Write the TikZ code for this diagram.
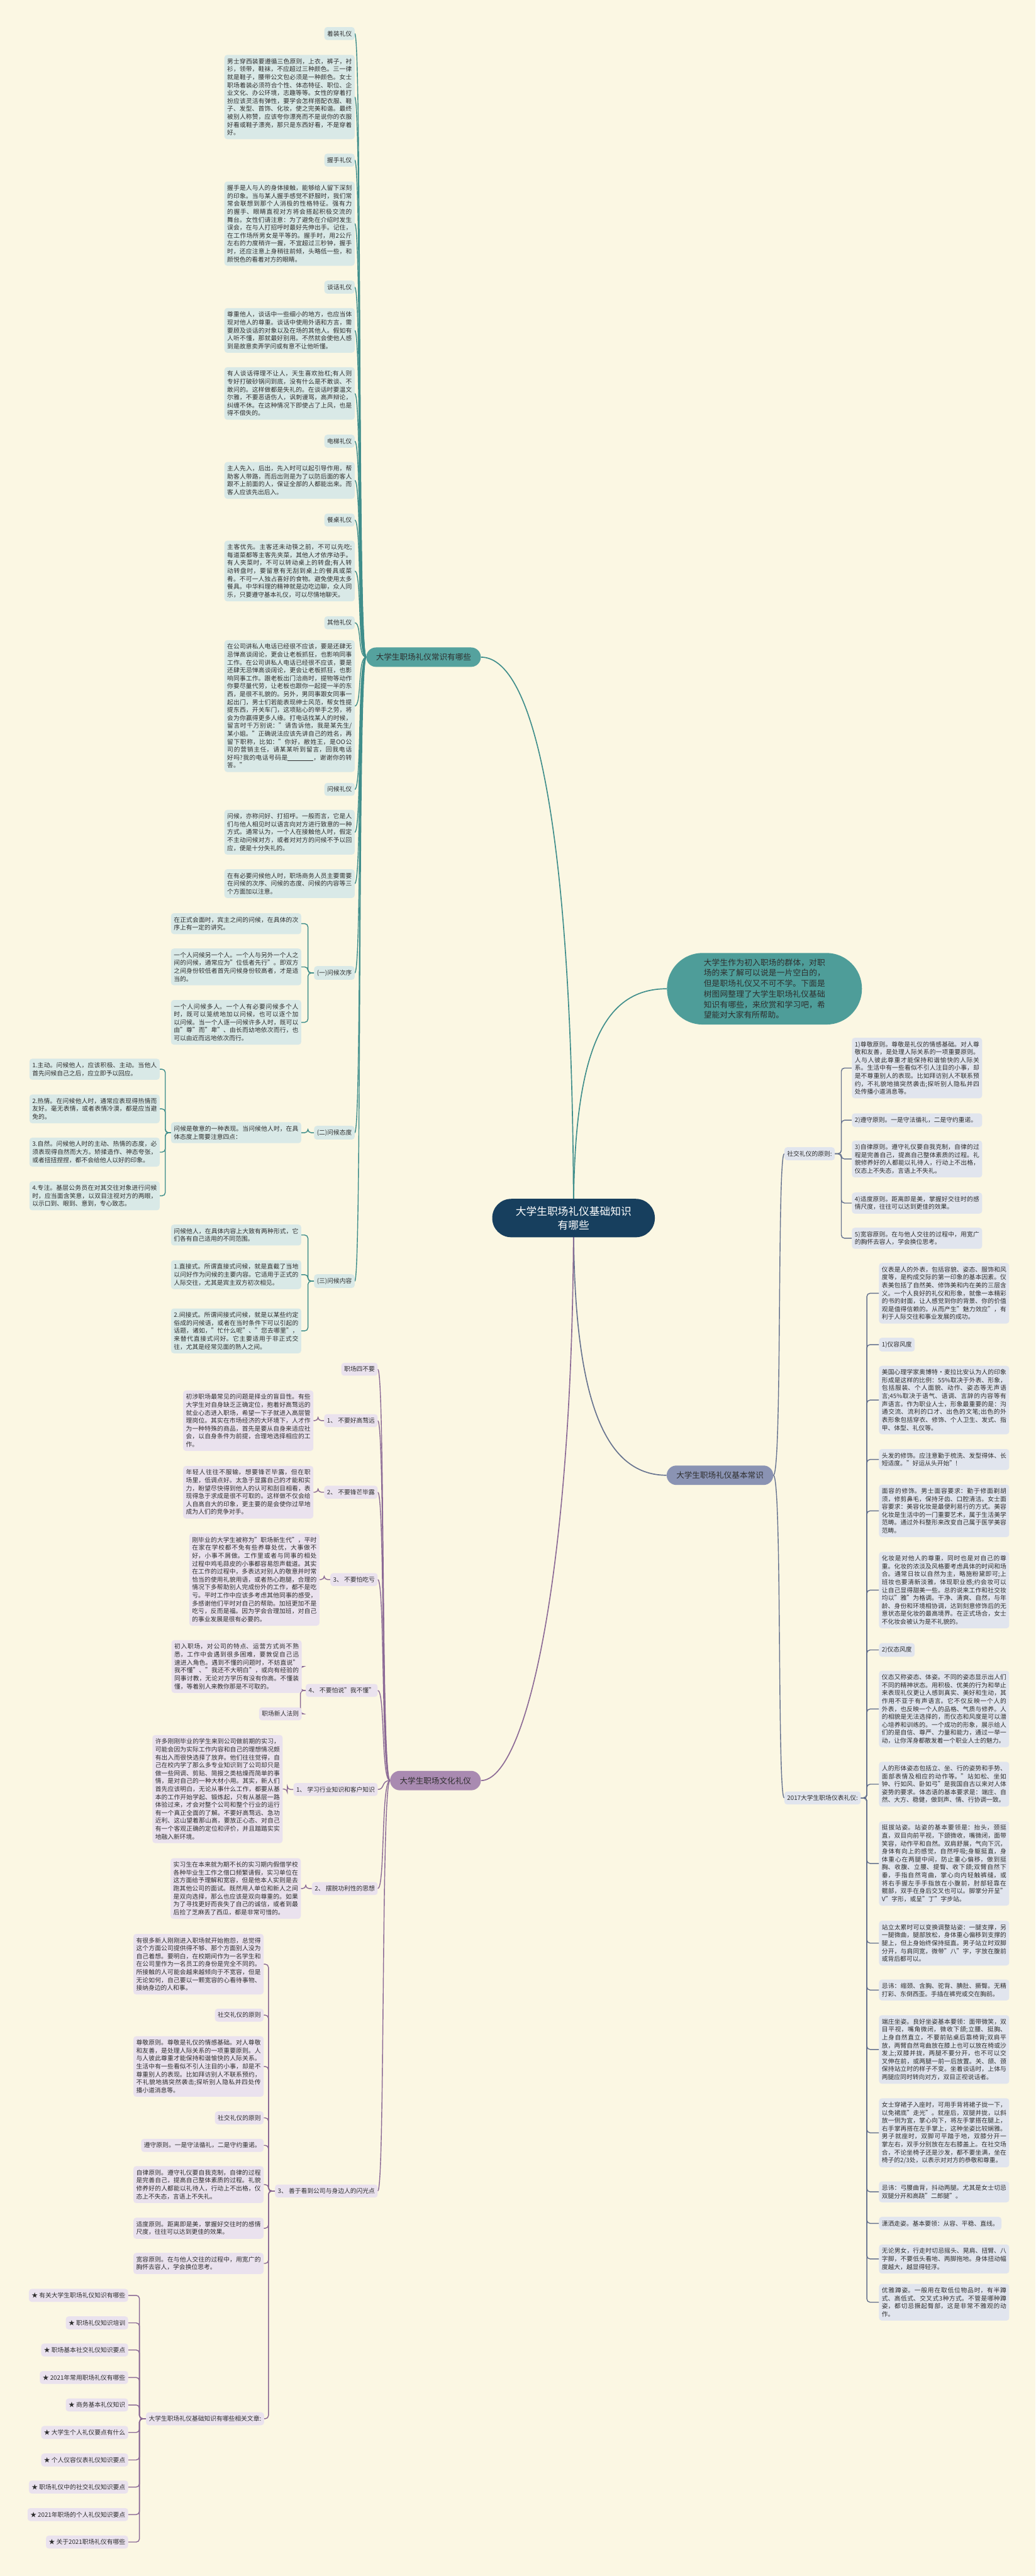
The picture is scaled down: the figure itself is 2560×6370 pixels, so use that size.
\documentclass[tikz,border=0pt]{standalone}
\usepackage{fontspec}
\setmainfont{Noto Sans CJK SC}
\XeTeXlinebreaklocale "zh"
\XeTeXlinebreakskip=0pt plus 1pt
\setlength{\parindent}{0pt}
\definecolor{bgc}{HTML}{FBF7E3}
\definecolor{txt}{HTML}{2E2E2E}
\definecolor{tline}{HTML}{3F8E8B}
\definecolor{tboxc}{HTML}{D9E9E7}
\definecolor{tnode}{HTML}{55A29E}
\definecolor{pline}{HTML}{8C6A96}
\definecolor{pboxc}{HTML}{EAE2EE}
\definecolor{pnode}{HTML}{A98AB1}
\definecolor{sline}{HTML}{67738F}
\definecolor{sboxc}{HTML}{E1E5EE}
\definecolor{snode}{HTML}{8A93B3}
\definecolor{cnode}{HTML}{173F5E}
\definecolor{rootc}{HTML}{4E9D99}
\newcommand\fsA{\fontsize{15.2}{19.6}\selectfont}
\newcommand\fsB{\fontsize{19.6}{24}\selectfont}
\newcommand\fsC{\fontsize{19.8}{26}\selectfont}
\newcommand\fsD{\fontsize{26}{34}\selectfont}
\newcommand\conL[3]{\draw[#1] (#2.west) .. controls +(-22,0) and +(18,0) .. (#3.east);}
\newcommand\conR[3]{\draw[#1] (#2.east) .. controls +(22,0) and +(-18,0) .. (#3.west);}
\newcommand\brL[4]{\draw[#1, rounded corners=8pt] (#2.west) -- ++(-#4,0) |- (#3.east);}
\newcommand\brR[4]{\draw[#1, rounded corners=8pt] (#2.east) -- ++(#4,0) |- (#3.west);}
\pgfdeclarelayer{back}
\pgfsetlayers{back,main}
\tikzset{
 bx/.style={font=\fsA, text=txt, inner xsep=7pt, inner ysep=9pt, rounded corners=7pt},
 tb/.style={bx, fill=tboxc},
 tw/.style={tb, text width=308pt, align=justify},
 pb/.style={bx, fill=pboxc},
 pw/.style={pb, text width=308pt, align=justify},
 sb/.style={bx, fill=sboxc},
 sw/.style={sb, text width=308pt, align=justify},
 lvl/.style={font=\fsB, text=txt, rounded corners=24pt, minimum height=48pt, inner xsep=24pt, inner ysep=4pt},
 tcon/.style={draw=tline, line width=2.2pt},
 pcon/.style={draw=pline, line width=2.2pt},
 scon/.style={draw=sline, line width=2.2pt},
}
\begin{document}
\begin{tikzpicture}[x=1pt, y=-1pt]
\useasboundingbox (0,0) rectangle (2560,6370);
% ---------- center and level 1 ----------
\node[fill=cnode, text=white, font=\fsD, rounded corners=47pt, minimum width=402pt, minimum height=95pt, align=center] (C) at (1418,3012) {大学生职场礼仪基础知识\\有哪些};
\node[fill=rootc, text=txt, font=\fsC, rounded corners=88pt, minimum width=482pt, minimum height=177pt, text width=300pt, align=justify] (R) at (1890,2445) {大学生作为初入职场的群体，对职场的来了解可以说是一片空白的，但是职场礼仪又不可不学。下面是树图网整理了大学生职场礼仪基础知识有哪些，来欣赏和学习吧，希望能对大家有所帮助。};
\node[lvl, fill=tnode, anchor=east] (B1) at (1189,1625) {大学生职场礼仪常识有哪些};
\node[lvl, fill=pnode, anchor=east] (B2) at (1189,4403) {大学生职场文化礼仪};
\node[lvl, fill=snode, anchor=west] (B3) at (1648,3648) {大学生职场礼仪基本常识};
% ---------- teal branch ----------
\node[tb, anchor=east] (zz) at (877,83) {着装礼仪};
\node[tw, anchor=east] (t1) at (877,240) {男士穿西装要遵循三色原则，上衣，裤子，衬衫，领带，鞋袜，不应超过三种颜色。三一律就是鞋子，腰带公文包必须是一种颜色。女士职场着装必须符合个性、体态特征、职位、企业文化、办公环境，志趣等等。女性的穿着打扮应该灵活有弹性，要学会怎样搭配衣服、鞋子、发型、首饰、化妆，使之完美和谐。最终被别人称赞，应该夸你漂亮而不是说你的衣服好看或鞋子漂亮，那只是东西好看，不是穿着好。};
\node[tb, anchor=east] (ws) at (877,396) {握手礼仪};
\node[tw, anchor=east] (t2) at (877,553) {握手是人与人的身体接触，能够给人留下深刻的印象。当与某人握手感觉不舒服时，我们常常会联想到那个人消极的性格特征。强有力的握手、眼睛直视对方将会搭起积极交流的舞台。女性们请注意：为了避免在介绍时发生误会，在与人打招呼时最好先伸出手。记住，在工作场所男女是平等的。握手时，用2公斤左右的力度稍许一握，不宜超过三秒钟，握手时，还应注意上身稍往前倾，头略低一些，和颜悦色的看着对方的眼睛。};
\node[tb, anchor=east] (th) at (877,710) {谈话礼仪};
\node[tw, anchor=east] (t3) at (877,817) {尊重他人，谈话中一些细小的地方，也应当体现对他人的尊重。谈话中使用外语和方言，需要顾及谈话的对象以及在场的其他人。假如有人听不懂，那就最好别用。不然就会使他人感到是故意卖弄学问或有意不让他听懂。};
\node[tw, anchor=east] (t4) at (877,973) {有人谈话得理不让人，天生喜欢抬杠;有人则专好打破砂锅问到底，没有什么是不敢谈、不敢问的。这样做都是失礼的。在谈话时要温文尔雅，不要恶语伤人，讽刺谩骂，高声辩论，纠缠不休。在这种情况下即使占了上风，也是得不偿失的。};
\node[tb, anchor=east] (dt) at (877,1091) {电梯礼仪};
\node[tw, anchor=east] (t5) at (877,1188) {主人先入，后出，先入时可以起引导作用，帮助客人带路，而后出则是为了以防后面的客人跟不上前面的人，保证全部的人都能出来。而客人应该先出后入。};
\node[tb, anchor=east] (cz) at (877,1286) {餐桌礼仪};
\node[tw, anchor=east] (t6) at (877,1412) {主客优先。主客还未动筷之前，不可以先吃;每道菜都等主客先夹菜，其他人才依序动手。有人夹菜时，不可以转动桌上的转盘;有人转动转盘时，要留意有无刮到桌上的餐具或菜肴。不可一人独占喜好的食物。避免使用太多餐具。中华料理的精神就是边吃边聊，众人同乐，只要遵守基本礼仪，可以尽情地聊天。};
\node[tb, anchor=east] (qt) at (877,1540) {其他礼仪};
\node[tw, anchor=east] (t7) at (877,1746) {在公司讲私人电话已经很不应该，要是还肆无忌惮高谈阔论，更会让老板抓狂，也影响同事工作。在公司讲私人电话已经很不应该，要是还肆无忌惮高谈阔论，更会让老板抓狂，也影响同事工作。跟老板出门洽商时，提物等动作你要尽量代劳，让老板也跟你一起提一半的东西，是很不礼貌的。另外，男同事跟女同事一起出门，男士们若能表现绅士风范，帮女性提提东西，开关车门，这项贴心的举手之劳，将会为你赢得更多人缘。打电话找某人的时候，留言时千万别说："请告诉他，我是某先生/某小姐。"正确说法应该先讲自己的姓名，再留下职称，比如："你好，敝姓王，是OO公司的营销主任，请某某听到留言，回我电话好吗?我的电话号码是\rule[-2pt]{64pt}{0.8pt}，谢谢你的转答。"};
\node[tb, anchor=east] (wh) at (877,1952) {问候礼仪};
\node[tw, anchor=east] (t8) at (877,2058) {问候，亦称问好、打招呼。一般而言，它是人们与他人相见时以语言向对方进行致意的一种方式。通常认为，一个人在接触他人时，假定不主动问候对方，或者对对方的问候不予以回应，便是十分失礼的。};
\node[tw, anchor=east] (t9) at (877,2185) {在有必要问候他人时，职场商务人员主要需要在问候的次序、问候的态度、问候的内容等三个方面加以注意。};
\node[tb, anchor=east] (c1) at (877,2406) {(一)问候次序};
\node[tb, anchor=east] (c2) at (877,2801) {(二)问候态度};
\node[tb, anchor=east] (c3) at (877,3168) {(三)问候内容};
\node[tw, anchor=east] (c1a) at (745,2284) {在正式会面时，宾主之间的问候，在具体的次序上有一定的讲究。};
\node[tw, anchor=east] (c1b) at (745,2391) {一个人问候另一个人。一个人与另外一个人之间的问候，通常应为"位低者先行"。即双方之间身份较低者首先问候身份较高者，才是适当的。};
\node[tw, anchor=east] (c1c) at (745,2528) {一个人问候多人。一个人有必要问候多个人时，既可以笼统地加以问候，也可以逐个加以问候。当一个人逐一问候许多人时，既可以由"尊"而"卑"、由长而幼地依次而行，也可以由近而远地依次而行。};
\node[tw, anchor=east] (c2a) at (745,2801) {问候是敬意的一种表现。当问候他人时，在具体态度上需要注意四点：};
\node[tw, anchor=east] (d1) at (395,2644) {1.主动。问候他人，应该积极、主动。当他人首先问候自己之后，应立即予以回应。};
\node[tw, anchor=east] (d2) at (395,2742) {2.热情。在问候他人时，通常应表现得热情而友好。毫无表情，或者表情冷漠，都是应当避免的。};
\node[tw, anchor=east] (d3) at (395,2849) {3.自然。问候他人时的主动、热情的态度，必须表现得自然而大方。矫揉造作、神态夸张，或者扭扭捏捏，都不会给他人以好的印象。};
\node[tw, anchor=east] (d4) at (395,2957) {4.专注。基层公务员在对其交往对象进行问候时，应当面含笑意，以双目注视对方的两眼，以示口到、眼到、意到，专心致志。};
\node[tw, anchor=east] (c3a) at (745,3054) {问候他人，在具体内容上大致有两种形式，它们各有自己适用的不同范围。};
\node[tw, anchor=east] (c3b) at (745,3152) {1.直接式。所谓直接式问候，就是直截了当地以问好作为问候的主要内容。它适用于正式的人际交往，尤其是宾主双方初次相见。};
\node[tw, anchor=east] (c3c) at (745,3291) {2.间接式。所谓间接式问候，就是以某些约定俗成的问候语，或者在当时条件下可以引起的话题，诸如，"忙什么呢"、"您去哪里"，来替代直接式问好。它主要适用于非正式交往，尤其是经常见面的熟人之间。};
% ---------- purple branch ----------
\node[pb, anchor=east] (p0) at (934,3386) {职场四不要};
\node[pb, anchor=east] (p1) at (934,3513) {1、 不要好高骛远};
\node[pw, anchor=east] (p1t) at (775,3513) {初涉职场最常见的问题是择业的盲目性。有些大学生对自身缺乏正确定位，抱着好高骛远的就业心态进入职场，希望一下子就进入高层管理岗位。其实在市场经济的大环境下，人才作为一种特殊的商品，首先是要从自身来适应社会，以自身条件为前提，合理地选择相应的工作。};
\node[pb, anchor=east] (p2) at (934,3690) {2、 不要锋芒毕露};
\node[pw, anchor=east] (p2t) at (775,3690) {年轻人往往不服输，想要锋芒毕露，但在职场里，低调点好。太急于显露自己的才能和实力，盼望尽快得到他人的认可和刮目相看，表现得急于求成是很不可取的。这样做不仅会给人自高自大的印象，更主要的是会使你过早地成为人们的竞争对手。};
\node[pb, anchor=east] (p3) at (934,3906) {3、 不要怕吃亏};
\node[pw, anchor=east] (p3t) at (790,3906) {刚毕业的大学生被称为"职场新生代"，平时在家在学校都不免有些养尊处优，大事做不好，小事不屑做。工作里或者与同事的相处过程中鸡毛蒜皮的小事都容易怨声载道。其实在工作的过程中，多表达对别人的敬意并时常恰当的使用礼貌用语，或者热心跑腿，合理的情况下多帮助别人完成份外的工作，都不是吃亏。平时工作中应该多考虑其他同事的感受，多感谢他们平时对自己的帮助。加班更加不是吃亏，反而是福。因为学会合理加班，对自己的事业发展是很有必要的。};
\node[pb, anchor=east] (p4) at (934,4180) {4、 不要怕说"我不懂"};
\node[pw, anchor=east] (p4t) at (746,4121) {初入职场，对公司的特点、运营方式尚不熟悉，工作中会遇到很多困难，要敦促自己迅速进入角色。遇到不懂的问题时，不妨直说"我不懂"、"我还不大明白"，或向有经验的同事讨教，无论对方学历有没有你高。不懂装懂，等着别人来教你那是不可取的。};
\node[pb, anchor=east] (p4n) at (746,4238) {职场新人法则};
\node[pb, anchor=east] (p5) at (934,4425) {1、 学习行业知识和客户知识};
\node[pw, anchor=east] (p5t) at (699,4424) {许多刚刚毕业的学生来到公司做前期的实习，可能会因为实际工作内容和自己的理想情况颇有出入而很快选择了放弃。他们往往觉得，自己在校内学了那么多专业知识到了公司却只是做一些网调、剪贴、简报之类枯燥而简单的事情，是对自己的一种大材小用。其实，新人们首先应该明白，无论从事什么工作，都要从基本的工作开始学起、锻炼起，只有从基层一路体验过来，才会对整个公司和整个行业的运行有一个真正全面的了解。不要好高骛远、急功近利、这山望着那山高，要放正心态、对自己有一个客观正确的定位和评价，并且踏踏实实地融入新环境。};
\node[pb, anchor=east] (p6) at (934,4670) {2、 摆脱功利性的思想};
\node[pw, anchor=east] (p6t) at (744,4670) {实习生在本来就为期不长的实习期内假借学校各种毕业生工作之借口频繁请假，实习单位在这方面给予理解和宽容，但是他本人实则是去跑其他公司的面试。既然用人单位和新人之间是双向选择，那么也应该是双向尊重的。如果为了寻找更好而丧失了自己的诚信，或者到最后捡了芝麻丢了西瓜，都是非常可惜的。};
\node[pb, anchor=east] (p7) at (934,5418) {3、 善于看到公司与身边人的闪光点};
\node[pw, anchor=east] (q1) at (652,4857) {有很多新人刚刚进入职场就开始抱怨，总觉得这个方面公司提供得不够、那个方面别人没为自己着想。要明白，在校期间作为一名学生和在公司里作为一名员工的身份是完全不同的。所接触的人可能会越来越倾向于不宽容，但是无论如何，自己要以一颗宽容的心看待事物、接纳身边的人和事。};
\node[pb, anchor=east] (q2) at (652,4983) {社交礼仪的原则};
\node[pw, anchor=east] (q3) at (652,5110) {尊敬原则。尊敬是礼仪的情感基础。对人尊敬和友善，是处理人际关系的一项重要原则。人与人彼此尊重才能保持和谐愉快的人际关系。生活中有一些看似不引人注目的小事，却是不尊重别人的表现。比如拜访别人不联系预约，不礼貌地搞突然袭击;探听别人隐私并四处传播小道消息等。};
\node[pb, anchor=east] (q4) at (652,5237) {社交礼仪的原则};
\node[pb, anchor=east] (q5) at (652,5305) {遵守原则。一是守法循礼，二是守约重诺。};
\node[pw, anchor=east] (q6) at (652,5402) {自律原则。遵守礼仪要自我克制，自律的过程是完善自己，提高自己整体素质的过程。礼貌修养好的人都能以礼待人，行动上不出格，仪态上不失态，言语上不失礼。};
\node[pw, anchor=east] (q7) at (652,5510) {适度原则。距离即是美，掌握好交往时的感情尺度，往往可以达到更佳的效果。};
\node[pw, anchor=east] (q8) at (652,5597) {宽容原则。在与他人交往的过程中，用宽广的胸怀去容人，学会换位思考。};
\node[pb, anchor=east] (q9) at (653,5981) {大学生职场礼仪基础知识有哪些相关文章:};
\node[pb, anchor=east] (s1) at (317,5676) {★ 有关大学生职场礼仪知识有哪些};
\node[pb, anchor=east] (s2) at (317,5744) {★ 职场礼仪知识培训};
\node[pb, anchor=east] (s3) at (317,5811) {★ 职场基本社交礼仪知识要点};
\node[pb, anchor=east] (s4) at (317,5879) {★ 2021年常用职场礼仪有哪些};
\node[pb, anchor=east] (s5) at (317,5947) {★ 商务基本礼仪知识};
\node[pb, anchor=east] (s6) at (317,6015) {★ 大学生个人礼仪要点有什么};
\node[pb, anchor=east] (s7) at (317,6083) {★ 个人仪容仪表礼仪知识要点};
\node[pb, anchor=east] (s8) at (317,6150) {★ 职场礼仪中的社交礼仪知识要点};
\node[pb, anchor=east] (s9) at (317,6218) {★ 2021年职场的个人礼仪知识要点};
\node[pb, anchor=east] (s10) at (317,6286) {★ 关于2021职场礼仪有哪些};
% ---------- slate branch ----------
\node[sb, anchor=west] (r1) at (1939,2853) {社交礼仪的原则:};
\node[sw, anchor=west] (r1a) at (2106,2641) {1)尊敬原则。尊敬是礼仪的情感基础。对人尊敬和友善，是处理人际关系的一项重要原则。人与人彼此尊重才能保持和谐愉快的人际关系。生活中有一些看似不引人注目的小事，却是不尊重别人的表现。比如拜访别人不联系预约，不礼貌地搞突然袭击;探听别人隐私并四处传播小道消息等。};
\node[sw, anchor=west] (r1b) at (2106,2770) {2)遵守原则。一是守法循礼，二是守约重诺。};
\node[sw, anchor=west] (r1c) at (2106,2866) {3)自律原则。遵守礼仪要自我克制，自律的过程是完善自己，提高自己整体素质的过程。礼貌修养好的人都能以礼待人，行动上不出格，仪态上不失态，言语上不失礼。};
\node[sw, anchor=west] (r1d) at (2106,2975) {4)适度原则。距离即是美，掌握好交往时的感情尺度，往往可以达到更佳的效果。};
\node[sw, anchor=west] (r1e) at (2106,3062) {5)宽容原则。在与他人交往的过程中，用宽广的胸怀去容人，学会换位思考。};
\node[sb, anchor=west] (r2) at (1939,4446) {2017大学生职场仪表礼仪:};
\node[sw, anchor=west] (u1) at (2173,3198) {仪表是人的外表，包括容貌、姿态、服饰和风度等，是构成交际的第一印象的基本因素。仪表美包括了自然美、修饰美和内在美的三层含义。一个人良好的礼仪和形象，就像一本精彩的书的封面，让人感觉到你的背景、你的价值观是值得信赖的。从而产生"魅力效应"，有利于人际交往和事业发展的成功。};
\node[sb, anchor=west] (u2) at (2173,3325) {1)仪容风度};
\node[sw, anchor=west] (u3) at (2173,3462) {美国心理学家奥博特·麦拉比安认为人的印象形成是这样的比例：55\%取决于外表、形象，包括服装、个人面貌、动作、姿态等无声语言;45\%取决于语气、语调、言辞的内容等有声语言。作为职业人士，形象最重要的是：沟通交流、流利的口才、出色的文笔;出色的外表形象包括穿衣、修饰、个人卫生、发式、指甲、体型、礼仪等。};
\node[sw, anchor=west] (u4) at (2173,3609) {头发的修饰。应注意勤于梳洗、发型得体、长短适度。"好运从头开始"!};
\node[sw, anchor=west] (u5) at (2173,3736) {面容的修饰。男士面容要求：勤于修面剃胡须，修剪鼻毛，保持牙齿、口腔清洁。女士面容要求：美容化妆是最便利易行的方式。美容化妆是生活中的一门重要艺术，属于生活美学范畴。通过外科整形来改变自己属于医学美容范畴。};
\node[sw, anchor=west] (u6) at (2173,3932) {化妆是对他人的尊重，同时也是对自己的尊重。化妆的浓淡及风格要考虑具体的时间和场合。通常日妆以自然为主，略施粉黛即可;上班妆也要清新淡雅，体现职业感;约会妆可以让自己显得甜美一些。总的说来工作和社交妆均以"雅"为格调。干净、清爽、自然，与年龄、身份和环境相协调，达到刻意修饰后的无意状态是化妆的最高境界。在正式场合，女士不化妆会被认为是不礼貌的。};
\node[sb, anchor=west] (u7) at (2173,4080) {2)仪态风度};
\node[sw, anchor=west] (u8) at (2173,4226) {仪态又称姿态、体姿。不同的姿态显示出人们不同的精神状态。用积极、优美的行为和举止来表现礼仪更让人感到真实、美好和生动，其作用不亚于有声语言。它不仅反映一个人的外表，也反映一个人的品格、气质与修养。人的相貌是无法选择的，而仪态和风度是可以潜心培养和训练的。一个成功的形象，展示给人们的是自信、尊严、力量和能力，通过一举一动，让你浑身都散发着一个职业人士的魅力。};
\node[sw, anchor=west] (u9) at (2173,4412) {人的形体姿态包括立、坐、行的姿势和手势、面部表情及相应的动作等。"站如松、坐如钟、行如风、卧如弓"是我国自古以来对人体姿势的要求。体态语的基本要求是：端庄、自然、大方、稳健，做到声、情、行协调一致。};
\node[sw, anchor=west] (u10) at (2173,4608) {挺拔站姿。站姿的基本要领是：抬头，颈挺直，双目向前平视，下颌微收，嘴微闭，面带笑容，动作平和自然。双肩舒展，气向下沉，身体有向上的感觉，自然呼吸;身躯挺直，身体重心在两腿中间，防止重心偏移，做到挺胸、收腹、立腰、提臀、收下颌;双臂自然下垂，手指自然弯曲，掌心向内轻触裤缝，或将右手握左手手指放在小腹前，肘部轻靠在髋部，双手在身后交叉也可以。脚掌分开呈"V"字形，或呈"丁"字步站。};
\node[sw, anchor=west] (u11) at (2173,4805) {站立太累时可以变换调整站姿：一腿支撑，另一腿微曲，腿部放松，身体重心偏移到支撑的腿上，但上身始终保持挺直。男子站立时双脚分开，与肩同宽，微带"八"字，字放在腹前或背后都可以。};
\node[sw, anchor=west] (u12) at (2173,4921) {忌讳：缩颈、含胸、驼背、腆肚、撅臀。无精打彩、东倒西歪。手插在裤兜或交在胸前。};
\node[sw, anchor=west] (u13) at (2173,5068) {端庄坐姿。良好坐姿基本要领：面带微笑，双目平视，嘴角微闭，微收下颌;立腰、挺胸、上身自然直立，不要前贴桌后靠椅背;双肩平放，两臂自然弯曲放在膝上也可以放在椅或沙发上;双膝并拢，两腿不要分开，也不可以交叉伸在前，或两腿一前一后放置。关、颌、颈保持站立时的样子不变。坐着谈话时，上体与两腿应同时转向对方，双目正视说话者。};
\node[sw, anchor=west] (u14) at (2173,5274) {女士穿裙子入座时，可用手背将裙子拢一下，以免裙底"走光"。就座后，双腿并拢，以斜放一侧为宜，掌心向下，将左手掌搭在腿上，右手掌再搭在左手掌上，这种坐姿比较娴雅。男子就座时，双脚可平踏于地，双膝分开一掌左右，双手分别放在左右膝盖上。在社交场合，不论坐椅子还是沙发，都不要坐满，坐在椅子的2/3处，以表示对对方的恭敬和尊重。};
\node[sw, anchor=west] (u15) at (2173,5420) {忌讳：弓腰曲背，抖动两腿。尤其是女士切忌双腿分开和高跷"二郎腿"。};
\node[sb, anchor=west] (u16) at (2173,5498) {潇洒走姿。基本要领：从容、平稳、直线。};
\node[sw, anchor=west] (u17) at (2173,5586) {无论男女，行走时切忌摇头、晃肩、扭臂、八字脚，不要低头看地、两脚拖地。身体扭动幅度越大，越显得轻浮。};
\node[sw, anchor=west] (u18) at (2173,5693) {优雅蹲姿。一般用在取低位物品时，有半蹲式、高低式、交叉式3种方式。不管是哪种蹲姿，都切忌撅起臀部，这是非常不雅观的动作。};
% ---------- connectors ----------
\begin{pgfonlayer}{back}
\fill[bgc] (0,0) rectangle (2560,6370);
\draw[tcon, line width=2.6pt] (C.center) .. controls (1417,2100) and (1330,1625) .. (B1.east);
\draw[tcon, line width=2.6pt] (C.center) .. controls (1417,2600) and (1490,2445) .. (R.west);
\draw[scon, line width=2.6pt] (C.center) .. controls (1417,3450) and (1490,3648) .. (B3.west);
\draw[pcon, line width=2.6pt] (C.center) .. controls (1417,3900) and (1300,4403) .. (B2.east);
\foreach \n in {zz,t1,ws,t2,th,t3,t4,dt,t5,cz,t6,qt,t7,wh,t8,t9,c1,c2,c3} {\conL{tcon}{B1}{\n}}
\foreach \n in {c1a,c1b,c1c} {\brL{tcon}{c1}{\n}{15}}
\brL{tcon}{c2}{c2a}{15}
\foreach \n in {c3a,c3b,c3c} {\brL{tcon}{c3}{\n}{15}}
\foreach \n in {d1,d2,d3,d4} {\brL{tcon}{c2a}{\n}{14}}
\foreach \n in {p0,p1,p2,p3,p4,p5,p6,p7} {\conL{pcon}{B2}{\n}}
\brL{pcon}{p1}{p1t}{15}
\brL{pcon}{p2}{p2t}{15}
\brL{pcon}{p3}{p3t}{15}
\brL{pcon}{p4}{p4t}{13}
\brL{pcon}{p4}{p4n}{13}
\brL{pcon}{p5}{p5t}{15}
\brL{pcon}{p6}{p6t}{15}
\foreach \n in {q1,q2,q3,q4,q5,q6,q7,q8,q9} {\brL{pcon}{p7}{\n}{16}}
\foreach \n in {s1,s2,s3,s4,s5,s6,s7,s8,s9,s10} {\brL{pcon}{q9}{\n}{16}}
\conR{scon}{B3}{r1}
\conR{scon}{B3}{r2}
\foreach \n in {r1a,r1b,r1c,r1d,r1e} {\brR{scon}{r1}{\n}{16}}
\foreach \n in {u1,u2,u3,u4,u5,u6,u7,u8,u9,u10,u11,u12,u13,u14,u15,u16,u17,u18} {\brR{scon}{r2}{\n}{15}}
\end{pgfonlayer}
\end{tikzpicture}
\end{document}
